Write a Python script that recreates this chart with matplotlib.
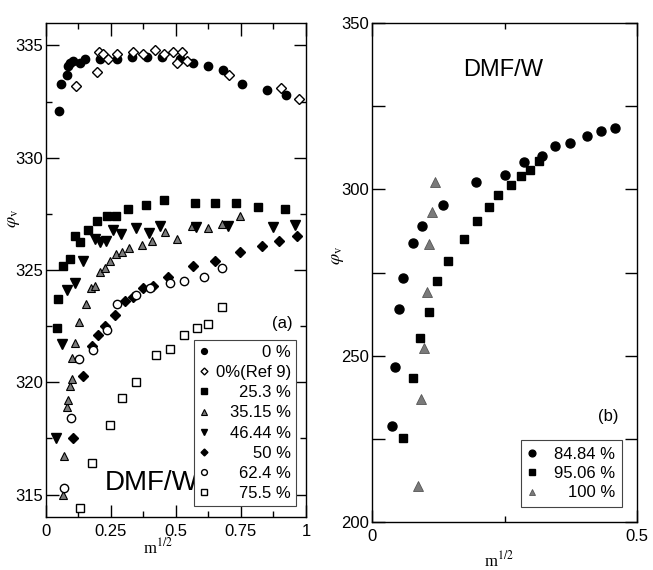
import matplotlib
matplotlib.use('Agg')
import matplotlib.pyplot as plt
from matplotlib.ticker import MultipleLocator, FormatStrFormatter

plt.rcParams['font.family'] = ['Liberation Sans', 'DejaVu Sans']
plt.rcParams['mathtext.fontset'] = 'stix'
plt.rcParams['axes.linewidth'] = 1.0

# ---- panel (a) data (x = m^1/2, y = phi_v)
x_0 = [0.05, 0.056, 0.08, 0.086, 0.092, 0.105, 0.131, 0.15, 0.208, 0.272, 0.33, 0.387, 0.445,
       0.515, 0.567, 0.624, 0.682, 0.755, 0.851, 0.925]
y_0 = [332.1, 333.3, 333.7, 334.1, 334.2, 334.3, 334.2, 334.4, 334.4, 334.4, 334.5, 334.5, 334.5,
       334.4, 334.2, 334.1, 333.9, 333.3, 333.0, 332.8]
x_ref9 = [0.114, 0.197, 0.205, 0.22, 0.24, 0.272, 0.333, 0.372, 0.419, 0.452, 0.49, 0.522, 0.505,
          0.541, 0.705, 0.903, 0.975]
y_ref9 = [333.2, 333.8, 334.7, 334.6, 334.4, 334.6, 334.7, 334.6, 334.8, 334.6, 334.7, 334.7, 334.2,
          334.3, 333.7, 333.1, 332.6]
x_253 = [0.044, 0.047, 0.064, 0.092, 0.113, 0.131, 0.16, 0.195, 0.233, 0.269, 0.314, 0.385, 0.452,
         0.573, 0.65, 0.731, 0.817, 0.919]
y_253 = [322.4, 323.7, 325.2, 325.5, 326.5, 326.25, 326.8, 327.2, 327.4, 327.4, 327.7, 327.9, 328.1,
         328.0, 328.0, 328.0, 327.8, 327.7]
x_3515 = [0.064, 0.07, 0.08, 0.086, 0.092, 0.099, 0.099, 0.113, 0.128, 0.154, 0.172, 0.188, 0.208,
          0.227, 0.246, 0.269, 0.291, 0.318, 0.368, 0.407, 0.458, 0.503, 0.56, 0.625, 0.677, 0.747]
y_3515 = [315.0, 316.7, 318.9, 319.2, 319.85, 320.15, 321.1, 321.75, 322.7, 323.5, 324.2, 324.3, 324.9,
          325.1, 325.4, 325.7, 325.8, 326.0, 326.1, 326.3, 326.7, 326.4, 326.95, 326.85, 327.04, 327.4]
x_4644 = [0.038, 0.06, 0.079, 0.113, 0.141, 0.188, 0.208, 0.231, 0.257, 0.29, 0.346, 0.398, 0.44,
          0.577, 0.70, 0.874, 0.958]
y_4644 = [317.5, 321.7, 324.1, 324.4, 325.4, 326.4, 326.25, 326.3, 326.8, 326.6, 326.85, 326.65, 326.96,
          326.9, 326.95, 326.9, 327.0]
x_50 = [0.103, 0.144, 0.176, 0.201, 0.227, 0.265, 0.304, 0.333, 0.374, 0.413, 0.47, 0.564, 0.65,
        0.746, 0.83, 0.896, 0.964]
y_50 = [317.5, 320.3, 321.6, 322.1, 322.5, 323.0, 323.6, 323.8, 324.2, 324.3, 324.7, 325.2, 325.4,
        325.8, 326.05, 326.3, 326.5]
x_624 = [0.07, 0.095, 0.128, 0.182, 0.233, 0.274, 0.346, 0.401, 0.477, 0.531, 0.608, 0.676]
y_624 = [315.3, 318.4, 321.05, 321.45, 322.35, 323.5, 323.9, 324.2, 324.4, 324.5, 324.7, 325.1]
x_755 = [0.131, 0.176, 0.246, 0.291, 0.347, 0.424, 0.477, 0.531, 0.579, 0.624, 0.676]
y_755 = [314.4, 316.4, 318.1, 319.3, 320.0, 321.2, 321.5, 322.1, 322.4, 322.6, 323.35]

# ---- panel (b) data
x_8484 = [0.037, 0.043, 0.05, 0.058, 0.078, 0.095, 0.133, 0.196, 0.25, 0.287, 0.32, 0.345, 0.374,
          0.406, 0.433, 0.458]
y_8484 = [229.0, 246.6, 264.1, 273.3, 283.8, 289.0, 295.3, 302.2, 304.4, 308.35, 310.05, 312.9, 313.9,
          315.9, 317.4, 318.4]
x_9506 = [0.058, 0.077, 0.091, 0.108, 0.122, 0.143, 0.174, 0.199, 0.22, 0.237, 0.262, 0.281, 0.299, 0.316]
y_9506 = [225.3, 243.3, 255.3, 263.0, 272.3, 278.5, 285.0, 290.5, 294.65, 298.35, 301.35, 304.1, 305.85, 308.65]
x_100 = [0.086, 0.092, 0.099, 0.103, 0.108, 0.113, 0.118]
y_100 = [210.75, 237.0, 252.3, 269.1, 283.6, 293.15, 302.35]

gray = '#7a7a7a'

fig = plt.figure(figsize=(6.53, 5.70), dpi=100)
ax1 = fig.add_axes([0.0704, 0.093, 0.3982, 0.8666])
ax2 = fig.add_axes([0.5697, 0.0842, 0.4058, 0.8754])

ms = 6
ax1.plot(x_0, y_0, 'o', color='k', ms=ms, label='0 %')
ax1.plot(x_ref9, y_ref9, 'D', mfc='white', mec='k', mew=1.0, ms=5, label='0%(Ref 9)')
ax1.plot(x_253, y_253, 's', color='k', ms=5.5, label='25.3 %')
ax1.plot(x_3515, y_3515, '^', mfc=gray, mec='k', mew=0.8, ms=6, label='35.15 %')
ax1.plot(x_4644, y_4644, 'v', color='k', ms=6.5, label='46.44 %')
ax1.plot(x_50, y_50, 'D', color='k', ms=5, label='50 %')
ax1.plot(x_624, y_624, 'o', mfc='white', mec='k', mew=1.0, ms=6, label='62.4 %')
ax1.plot(x_755, y_755, 's', mfc='white', mec='k', mew=1.0, ms=5.5, label='75.5 %')

ax2.plot(x_8484, y_8484, 'o', color='k', ms=6.5, label='84.84 %')
ax2.plot(x_9506, y_9506, 's', color='k', ms=6, label='95.06 %')
ax2.plot(x_100, y_100, '^', mfc=gray, mec='#555555', mew=0.6, ms=6.5, label='100 %')

ax1.set_xlim(0, 1)
ax1.set_ylim(314, 336)
ax1.xaxis.set_major_locator(MultipleLocator(0.25))
ax1.xaxis.set_minor_locator(MultipleLocator(0.125))
ax1.yaxis.set_major_locator(MultipleLocator(5))
ax1.yaxis.set_minor_locator(MultipleLocator(2.5))
ax1.xaxis.set_major_formatter(FormatStrFormatter('%g'))

ax2.set_xlim(0, 0.5)
ax2.set_ylim(200, 350)
ax2.xaxis.set_major_locator(MultipleLocator(0.5))
ax2.xaxis.set_minor_locator(MultipleLocator(0.25))
ax2.yaxis.set_major_locator(MultipleLocator(50))
ax2.yaxis.set_minor_locator(MultipleLocator(25))
ax2.xaxis.set_major_formatter(FormatStrFormatter('%g'))

for ax in (ax1, ax2):
    ax.tick_params(which='both', direction='in', top=True, right=True, labelsize=12, width=1.0)
    ax.tick_params(which='major', length=9)
    ax.tick_params(which='minor', length=4.5)
    ax.tick_params(axis='y', pad=2)
    ax.tick_params(axis='x', pad=5)
ax2.tick_params(axis='y', which='minor', length=9)

ax1.set_xlabel(r'm$^{1/2}$', fontsize=12, family='Liberation Serif')
ax1.xaxis.set_label_coords(0.43, -0.042)
ax1.set_ylabel(r'$\varphi_{\rm v}$', fontsize=13)
ax1.yaxis.set_label_coords(-0.093, 0.605)
ax2.set_xlabel(r'm$^{1/2}$', fontsize=12, family='Liberation Serif')
ax2.xaxis.set_label_coords(0.48, -0.056)
ax2.set_ylabel(r'$\varphi_{\rm v}$', fontsize=13)
ax2.yaxis.set_label_coords(-0.10, 0.535)

ax1.text(0.406, 315.5, 'DMF/W', fontsize=20, ha='center', va='center')
ax1.text(0.908, 322.6, '(a)', fontsize=12, ha='center', va='center')
ax2.text(0.247, 335.9, 'DMF/W', fontsize=17, ha='center', va='center')
ax2.text(0.445, 231.7, '(b)', fontsize=12, ha='center', va='center')

leg1 = ax1.legend(loc='lower right', bbox_to_anchor=(0.962, 0.022), borderaxespad=0,
                  fontsize=12, fancybox=False, edgecolor='#444444', framealpha=1,
                  handlelength=0.6, handletextpad=0.4, labelspacing=0.31, borderpad=0.3,
                  markerscale=0.7)
leg2 = ax2.legend(loc='lower right', bbox_to_anchor=(0.943, 0.03), borderaxespad=0,
                  fontsize=12, fancybox=False, edgecolor='#444444', framealpha=1,
                  handlelength=0.6, handletextpad=1.0, labelspacing=0.25, borderpad=0.4,
                  markerscale=0.75)
for leg in (leg1, leg2):
    leg.get_frame().set_linewidth(0.8)

# right-align legend labels: shift each shorter label right by the width difference
renderer = fig.canvas.get_renderer()
for leg in (leg1, leg2):
    widths = [t.get_window_extent(renderer).width for t in leg.get_texts()]
    maxw = max(widths)
    for t, w in zip(leg.get_texts(), widths):
        t.set_position((maxw - w, 0))

fig.savefig('out.png', dpi=100)
